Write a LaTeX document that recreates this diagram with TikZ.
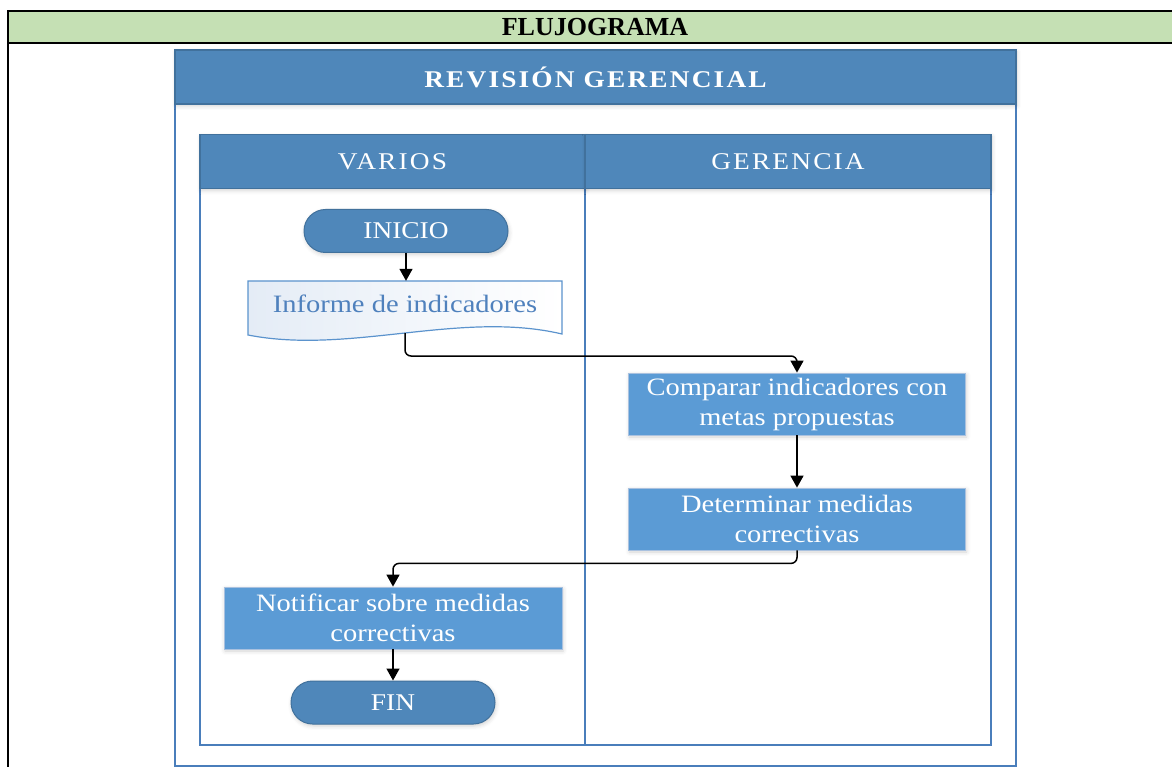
\documentclass[tikz,border=0pt]{standalone}
\usepackage{fontspec}
\setmainfont{Liberation Serif}
\newfontfamily\hdfont[FakeStretch=1.14,LetterSpace=9]{Liberation Serif}
\newfontfamily\lanefont[FakeStretch=1.14,LetterSpace=9]{Liberation Serif}
\newfontfamily\boxfont[FakeStretch=1.14]{Liberation Serif}
\usetikzlibrary{arrows.meta,shadows.blur}
\definecolor{bandgreen}{HTML}{C5E0B4}
\definecolor{hdrblue}{HTML}{4F87BA}
\definecolor{hdrline}{HTML}{41719C}
\definecolor{framebl}{HTML}{4A7EBB}
\definecolor{boxblue}{HTML}{5B9BD5}
\definecolor{boxline}{HTML}{A9C1DF}
\definecolor{doctext}{HTML}{4F81BD}
\definecolor{docfill}{HTML}{E4ECF6}
\definecolor{docline}{HTML}{5B93CD}
\tikzset{
  softshadow/.style={blur shadow={shadow xshift=1pt, shadow yshift=-2pt, shadow blur radius=4pt, shadow opacity=18}},
  hdrbox/.style={fill=hdrblue, draw=hdrline, line width=1.5pt, text=white, inner sep=0pt, minimum height=54pt, softshadow},
  termbox/.style={rounded corners=21.5pt, fill=hdrblue, draw=hdrline, line width=1pt, text=white, inner sep=0pt,
    minimum width=204pt, minimum height=43pt, font=\boxfont\fontsize{24}{28}\selectfont, softshadow},
  procbox/.style={fill=boxblue, draw=boxline, line width=0.8pt, text=white, inner sep=0pt, align=center,
    minimum width=337pt, minimum height=62pt, font=\boxfont\fontsize{25}{30}\selectfont, softshadow},
  conn/.style={draw=black, line width=1.5pt, rounded corners=6pt, -{Triangle[width=13pt,length=12pt]}},
  lanestroke/.style={draw=framebl, line width=1.5pt},
}
\begin{document}
\begin{tikzpicture}[x=1pt,y=-1pt]
\useasboundingbox (0,0) rectangle (1172,767);
% title band
\fill[bandgreen] (8,11) rectangle (1180,43);
\draw[line width=2.5pt] (1180,11) -- (8,11) -- (8,780);
\draw[line width=2.5pt] (8,43) -- (1180,43);
\node[font=\bfseries\fontsize{26}{30}\selectfont, inner sep=0pt] (title) at (595,27.5) {FLUJOGRAMA};
% outer frame
\draw[lanestroke] (175,104) -- (175,766) -- (1016,766) -- (1016,104);
\node[hdrbox, minimum width=841pt, font=\hdfont\bfseries\fontsize{24}{28}\selectfont] (rev) at (595.5,77) {REVISIÓN GERENCIAL};
% lanes
\draw[lanestroke] (200,188) rectangle (991,745);
\draw[lanestroke] (585,188) -- (585,745);
\node[hdrbox, minimum width=385pt, font=\lanefont\fontsize{24}{28}\selectfont] (varios) at (392.5,161.5) {VARIOS};
\node[hdrbox, minimum width=406pt, font=\lanefont\fontsize{24}{28}\selectfont] (gerencia) at (788,161.5) {GERENCIA};
% document shape
\path[draw=docline, line width=1.2pt, left color=docfill, right color=white]
  (248,281) -- (562,281) -- (562,334)
  .. controls (460,310) and (350,355) .. (248,335) -- cycle;
\node[inner sep=0pt, minimum width=314pt, minimum height=46pt, text=doctext,
  font=\boxfont\fontsize{25}{30}\selectfont] (doc) at (405,304) {Informe de indicadores};
\coordinate (docb) at (405,333);
% flow nodes
\node[termbox] (inicio) at (406,231) {INICIO};
\node[procbox] (comp) at (797,404) {Comparar indicadores con\\metas propuestas};
\node[procbox] (det) at (797,519) {Determinar medidas\\correctivas};
\node[procbox, minimum width=338pt] (noti) at (393,618) {Notificar sobre medidas\\correctivas};
\node[termbox] (fin) at (393,702.5) {FIN};
% connectors
\draw[conn] (inicio.south) -- (inicio.south |- doc.north);
\draw[conn] (docb) -- ++(0,23) -| (comp.north);
\draw[conn] (comp) -- (det);
\draw[conn] (det.south) -- ++(0,13) -| (noti.north);
\draw[conn] (noti) -- (fin);
\end{tikzpicture}
\end{document}
